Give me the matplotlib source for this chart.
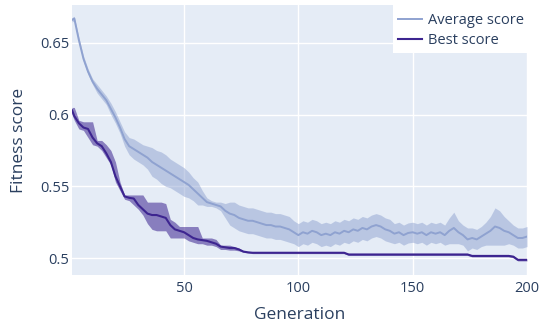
import matplotlib
matplotlib.use("Agg")
import matplotlib.pyplot as plt
from matplotlib.patches import Rectangle

gens = [1] + list(range(2, 201, 2))

avg_mean = [0.666, 0.667, 0.652, 0.639, 0.630, 0.623, 0.618, 0.614, 0.610, 0.604, 0.598,
            0.591, 0.583, 0.578, 0.576, 0.574, 0.572, 0.570, 0.567, 0.565, 0.563,
            0.561, 0.559, 0.557, 0.555, 0.553, 0.551, 0.548, 0.545, 0.542, 0.539,
            0.538, 0.537, 0.536, 0.533, 0.531, 0.530, 0.528, 0.527, 0.526, 0.526,
            0.525, 0.524, 0.523, 0.523, 0.522, 0.522, 0.521, 0.520, 0.518, 0.516,
            0.518, 0.517, 0.519, 0.518, 0.516, 0.517, 0.516, 0.518, 0.517, 0.519,
            0.518, 0.520, 0.519, 0.521, 0.520, 0.522, 0.523, 0.522, 0.520, 0.519,
            0.517, 0.518, 0.516, 0.5175, 0.518, 0.517, 0.518, 0.516, 0.518, 0.517,
            0.518, 0.516, 0.519, 0.521, 0.518, 0.516, 0.513, 0.514, 0.513, 0.515,
            0.517, 0.519, 0.522, 0.521, 0.519, 0.518, 0.516, 0.514, 0.514, 0.515]

avg_std = [0.0015, 0.0015, 0.002, 0.002, 0.002, 0.002, 0.003, 0.003, 0.003, 0.004, 0.004,
           0.004, 0.005, 0.006, 0.007, 0.007, 0.007, 0.008, 0.010, 0.010, 0.011,
           0.011, 0.010, 0.010, 0.010, 0.010, 0.009, 0.008, 0.008, 0.005, 0.003,
           0.002, 0.002, 0.003, 0.005, 0.008, 0.009, 0.009, 0.009, 0.009, 0.009,
           0.009, 0.009, 0.009, 0.009, 0.009, 0.009, 0.009, 0.009, 0.008, 0.008,
           0.008, 0.008, 0.008, 0.008, 0.008, 0.008, 0.008, 0.008, 0.008, 0.008,
           0.008, 0.008, 0.008, 0.008, 0.008, 0.008, 0.008, 0.008, 0.008, 0.008,
           0.007, 0.007, 0.007, 0.007, 0.007, 0.007, 0.007, 0.007, 0.007, 0.007,
           0.007, 0.007, 0.009, 0.011, 0.008, 0.007, 0.008, 0.007, 0.007, 0.007,
           0.008, 0.010, 0.013, 0.012, 0.010, 0.008, 0.007, 0.007, 0.007, 0.007]

best_mean = [0.603, 0.599, 0.594, 0.591, 0.590, 0.584, 0.580, 0.578, 0.573, 0.567, 0.557,
             0.550, 0.543, 0.542, 0.5415, 0.537, 0.534, 0.531, 0.530, 0.530, 0.529,
             0.528, 0.523, 0.520, 0.519, 0.518, 0.516, 0.514, 0.513, 0.5125, 0.512,
             0.511, 0.510, 0.508, 0.5075, 0.507, 0.507, 0.506, 0.5045, 0.504, 0.5037,
             0.5037, 0.5037, 0.5037, 0.5037, 0.5037, 0.5037, 0.5037, 0.5037, 0.5037, 0.5037,
             0.5037, 0.5037, 0.5037, 0.5037, 0.5037, 0.5037, 0.5037, 0.5037, 0.5037, 0.5037,
             0.5025, 0.5025, 0.5025, 0.5025, 0.5025, 0.5025, 0.5025, 0.5025, 0.5025, 0.5025,
             0.5025, 0.5025, 0.5025, 0.5025, 0.5025, 0.5025, 0.5025, 0.5025, 0.5025, 0.5025,
             0.5025, 0.5025, 0.5025, 0.5025, 0.5025, 0.5025, 0.5025, 0.5015, 0.5015, 0.5015,
             0.5015, 0.5015, 0.5015, 0.5015, 0.5015, 0.5015, 0.501, 0.4988, 0.4988, 0.4988]

best_lo = [0.600, 0.596, 0.590, 0.589, 0.584, 0.579, 0.578, 0.575, 0.570, 0.565, 0.553,
           0.547, 0.541, 0.540, 0.537, 0.534, 0.530, 0.524, 0.520, 0.519, 0.519,
           0.519, 0.514, 0.514, 0.514, 0.514, 0.512, 0.511, 0.510, 0.510, 0.509,
           0.509, 0.508, 0.506, 0.506, 0.5055, 0.5055, 0.505, 0.504, 0.5035, 0.5031,
           0.5031, 0.5031, 0.5031, 0.5031, 0.5031, 0.5031, 0.5031, 0.5031, 0.5031, 0.5031,
           0.5031, 0.5031, 0.5031, 0.5031, 0.5031, 0.5031, 0.5031, 0.5031, 0.5031, 0.5031,
           0.5018, 0.5018, 0.5018, 0.5018, 0.5018, 0.5018, 0.5018, 0.5018, 0.5018, 0.5018,
           0.5018, 0.5018, 0.5018, 0.5018, 0.5018, 0.5018, 0.5018, 0.5018, 0.5018, 0.5018,
           0.5018, 0.5018, 0.5018, 0.5018, 0.5018, 0.5018, 0.5018, 0.5008, 0.5008, 0.5008,
           0.5008, 0.5008, 0.5008, 0.5008, 0.5008, 0.5008, 0.5002, 0.4980, 0.4980, 0.4980]

best_hi = [0.605, 0.605, 0.596, 0.595, 0.595, 0.595, 0.582, 0.582, 0.579, 0.575, 0.567,
           0.553, 0.544, 0.544, 0.544, 0.544, 0.544, 0.539, 0.539, 0.539, 0.539,
           0.538, 0.527, 0.525, 0.522, 0.522, 0.522, 0.522, 0.522, 0.514, 0.514,
           0.514, 0.513, 0.509, 0.509, 0.509, 0.508, 0.507, 0.505, 0.5045, 0.5043,
           0.5043, 0.5043, 0.5043, 0.5043, 0.5043, 0.5043, 0.5043, 0.5043, 0.5043, 0.5043,
           0.5043, 0.5043, 0.5043, 0.5043, 0.5043, 0.5043, 0.5043, 0.5043, 0.5043, 0.5043,
           0.5032, 0.5032, 0.5032, 0.5032, 0.5032, 0.5032, 0.5032, 0.5032, 0.5032, 0.5032,
           0.5032, 0.5032, 0.5032, 0.5032, 0.5032, 0.5032, 0.5032, 0.5032, 0.5032, 0.5032,
           0.5032, 0.5032, 0.5032, 0.5032, 0.5032, 0.5032, 0.5032, 0.5022, 0.5022, 0.5022,
           0.5022, 0.5022, 0.5022, 0.5022, 0.5022, 0.5022, 0.5017, 0.4995, 0.4995, 0.4995]

x_ticks = [50, 100, 150, 200]
y_ticks = [0.5, 0.55, 0.6, 0.65]
y_tick_labels = ["0.5", "0.55", "0.6", "0.65"]

plt.rcParams['font.family'] = ['Open Sans', 'DejaVu Sans']
text_color = '#2a3f5f'
avg_color = '#8fa2d0'
best_color = '#3d2590'

fig = plt.figure(figsize=(5.42, 3.27), dpi=100)
ax = fig.add_axes([72/542, 1-275/327, (527-72)/542, (275-5)/327])
ax.set_facecolor('#E5ECF6')

avg_lo = [m - s for m, s in zip(avg_mean, avg_std)]
avg_hi = [m + s for m, s in zip(avg_mean, avg_std)]

ax.fill_between(gens, avg_lo, avg_hi, color=avg_color, alpha=0.5, linewidth=0, zorder=2)
ax.plot(gens, avg_mean, color=avg_color, linewidth=1.4, label='Average score', zorder=3)
ax.fill_between(gens, best_lo, best_hi, color=best_color, alpha=0.55, linewidth=0, zorder=4)
ax.plot(gens, best_mean, color=best_color, linewidth=1.5, label='Best score', zorder=5)

ax.set_xlim(1, 200)
ax.set_ylim(0.4882, 0.6764)
ax.set_xticks(x_ticks)
ax.set_yticks(y_ticks)
ax.set_yticklabels(y_tick_labels)
ax.grid(True, color='white', linewidth=1)
ax.set_axisbelow(True)
for s in ax.spines.values():
    s.set_visible(False)
ax.tick_params(axis='y', length=0, labelsize=10.5, colors=text_color, pad=2)
ax.tick_params(axis='x', length=0, labelsize=10.5, colors=text_color, pad=4)
ax.set_xlabel('Generation', fontsize=12.5, color=text_color, labelpad=8)
ax.set_ylabel('Fitness score', fontsize=12.5, color=text_color, labelpad=9)

fig.add_artist(Rectangle((393/542, 1-53/327), 1-393/542, 53/327, transform=fig.transFigure,
                         facecolor='white', edgecolor='none', zorder=10))
leg = fig.legend(loc='upper left', bbox_to_anchor=(398/542, 1-13/327), frameon=False,
                 fontsize=10.5, handlelength=1.65, handletextpad=0.4, borderpad=0,
                 labelspacing=0.37, borderaxespad=0)
leg.set_zorder(11)
for t in leg.get_texts():
    t.set_color(text_color)

fig.savefig('out.png', dpi=100)
